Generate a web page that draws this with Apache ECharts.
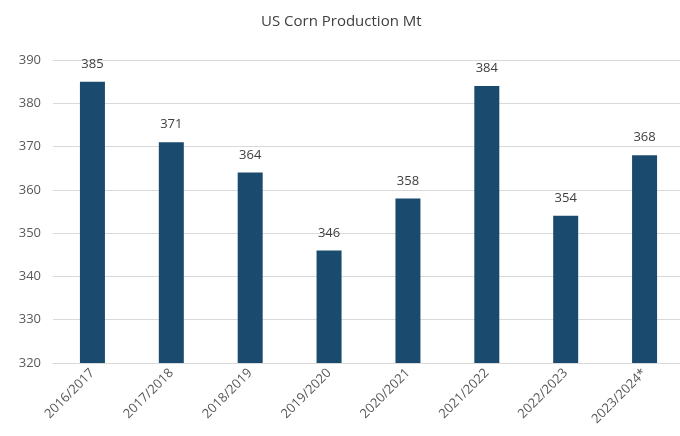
<!DOCTYPE html>
<html>
<head>
<meta charset="utf-8">
<script src="https://cdn.jsdelivr.net/npm/echarts@6/dist/echarts.min.js"></script>
<style>html,body{margin:0;padding:0;background:#fff}#c{width:680px;height:436px}</style>
</head>
<body>
<div id="c"></div>
<script>
const categories = ['2016/2017','2017/2018','2018/2019','2019/2020','2020/2021','2021/2022','2022/2023','2023/2024*'];
const production = [385, 371, 364, 346, 358, 384, 354, 368];
const yTicks = [320, 330, 340, 350, 360, 370, 380, 390];

const chart = echarts.init(document.getElementById('c'));
const font = 'Open Sans, Noto Sans, sans-serif';
chart.setOption({
  animation: false,
  title: {
    text: 'US Corn Production Mt',
    left: 256,
    top: 9,
    textStyle: { fontFamily: font, fontSize: 15, fontWeight: 'normal', color: '#404040' }
  },
  grid: { left: 53, width: 631, top: 60, height: 303, outerBoundsMode: 'none' },
  xAxis: {
    type: 'category',
    data: categories,
    axisLine: { show: true, lineStyle: { color: '#d9d9d9', width: 1 } },
    axisTick: { show: false },
    axisLabel: { rotate: 45, margin: 8, fontFamily: font, fontSize: 13, color: '#595959', interval: 0 }
  },
  yAxis: {
    type: 'value',
    min: yTicks[0],
    max: yTicks[yTicks.length - 1],
    interval: 10,
    axisLine: { show: false },
    axisTick: { show: false },
    splitLine: { lineStyle: { color: '#d9d9d9', width: 1 } },
    axisLabel: { margin: 12, fontFamily: font, fontSize: 13, color: '#595959' }
  },
  series: [{
    type: 'bar',
    data: production,
    barWidth: 25,
    itemStyle: { color: '#1a4b6e' },
    label: {
      show: true,
      position: 'top',
      distance: 11,
      fontFamily: font,
      fontSize: 13,
      color: '#404040'
    }
  }]
});
</script>
</body>
</html>
